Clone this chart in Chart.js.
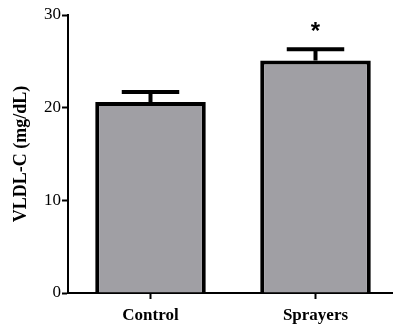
<!DOCTYPE html>
<html>
<head>
<meta charset="utf-8">
<script src="https://cdn.jsdelivr.net/npm/chart.js@4"></script>
<style>
  html, body { margin: 0; padding: 0; background: #fff; overflow: hidden; }
  #wrap { width: 398px; height: 327px; }
</style>
</head>
<body>
<div id="wrap"><canvas id="vldlChart" width="398" height="327"></canvas></div>
<script>
// données
const groupes = ['Control', 'Sprayers'];
const moyennes = [20.6, 25.1];
const erreurs = [1.1, 1.2];
const signif = ['', '*'];
const yTicks = [0, 10, 20, 30];

// barres d'erreur (vers le haut seulement) + astérisque
const errorBarsPlugin = {
    id: 'errorBars',
    afterDatasetsDraw(chart) {
        const ctx = chart.ctx;
        const y = chart.scales.y;
        const meta = chart.getDatasetMeta(0);
        ctx.save();
        ctx.strokeStyle = '#000';
        ctx.lineWidth = 4;
        meta.data.forEach((bar, i) => {
            const x = bar.x;
            const yTop = y.getPixelForValue(moyennes[i] + erreurs[i]);
            const yBar = y.getPixelForValue(moyennes[i]);
            const half = bar.width * 0.26;
            ctx.beginPath();
            ctx.moveTo(x, yBar);
            ctx.lineTo(x, yTop);
            ctx.moveTo(x - half, yTop);
            ctx.lineTo(x + half, yTop);
            ctx.stroke();
            if (signif[i]) {
                ctx.fillStyle = '#000';
                ctx.font = 'bold 24px "Liberation Sans", Arial, sans-serif';
                ctx.textAlign = 'center';
                ctx.textBaseline = 'top';
                ctx.fillText(signif[i], x, yTop - 29);
            }
        });
        ctx.restore();
    }
};

new Chart(document.getElementById('vldlChart').getContext('2d'), {
    type: 'bar',
    data: {
        labels: groupes,
        datasets: [{
            data: moyennes,
            backgroundColor: '#a09fa4',
            borderColor: '#000',
            borderWidth: 4,
            borderSkipped: 'bottom',
            barPercentage: 0.67,
            categoryPercentage: 1
        }]
    },
    options: {
        responsive: false,
        animation: false,
        layout: { padding: { top: 15, left: 0, right: 0, bottom: 0 } },
        plugins: { legend: { display: false }, tooltip: { enabled: false } },
        scales: {
            x: {
                offset: true,
                grid: { offset: false, drawOnChartArea: false, tickLength: 6, tickColor: '#000', tickWidth: 2 },
                border: { display: true, color: '#000', width: 2 },
                ticks: {
                    color: '#000',
                    padding: 6,
                    font: { family: '"Liberation Serif", "Times New Roman", serif', size: 17, weight: 'bold' }
                },
                afterFit(scale) { scale.height = 34; }
            },
            y: {
                min: 0,
                max: 30,
                afterBuildTicks(scale) { scale.ticks = yTicks.map(v => ({ value: v })); },
                grid: { drawOnChartArea: false, tickLength: 6, tickColor: '#000', tickWidth: 2 },
                border: { display: true, color: '#000', width: 2 },
                ticks: {
                    color: '#000',
                    padding: 1,
                    font: { family: '"Liberation Serif", "Times New Roman", serif', size: 17 }
                },
                title: {
                    display: true,
                    text: 'VLDL-C (mg/dL)',
                    color: '#000',
                    padding: { top: 11, bottom: 0 },
                    font: { family: '"Liberation Serif", "Times New Roman", serif', size: 18, weight: 'bold' }
                },
                afterFit(scale) { scale.width = 68; }
            }
        }
    },
    plugins: [errorBarsPlugin]
});
</script>
</body>
</html>
